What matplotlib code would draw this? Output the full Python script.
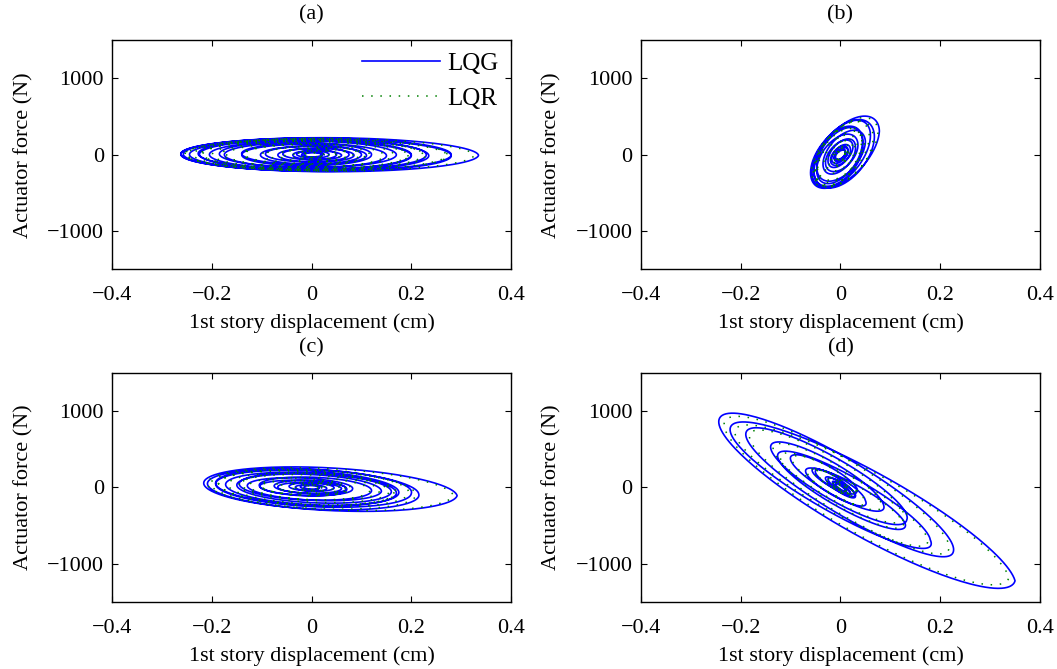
import numpy as np
import matplotlib
matplotlib.use("Agg")
import matplotlib.pyplot as plt

plt.rcParams['font.family'] = ['Liberation Serif', 'DejaVu Serif']
plt.rcParams['font.size'] = 16

# loop parameters, one row per cycle:
# x centre (cm), y centre (N), x amplitude (cm), y amplitude (N), phase lag (deg)
loops_a_xc = [0.01, 0.005, 0.0, -0.005, -0.01, -0.02, -0.01, -0.01, 0.0, 0.01, 0.035, 0.01, -0.01, 0.0, -0.01, 0.0, 0.005, 0.01, 0.0]
loops_a_yc = [0, 0, 0, 0, 0, 0, 0, 0, 0, 0, 0, 0, 0, 0, 0, 0, 0, 0, 0]
loops_a_ax = [0.015, 0.03, 0.05, 0.08, 0.11, 0.14, 0.18, 0.21, 0.23, 0.27, 0.30, 0.27, 0.245, 0.2, 0.16, 0.11, 0.08, 0.05, 0.02]
loops_a_ay = [25, 45, 70, 100, 130, 150, 175, 195, 205, 215, 225, 215, 210, 190, 160, 120, 90, 60, 30]
loops_a_ph = [92, 92, 92, 92, 92, 92, 92, 92, 92, 92, 92, 92, 92, 92, 92, 92, 92, 92, 92]

loops_b_xc = [0.0, 0.0, 0.0, 0.0, -0.008, 0.0, 0.012, 0.008, -0.005, 0.005, 0.0, 0.0, 0.0, 0.0]
loops_b_yc = [0, 0, 10, 0, -40, 0, 40, 20, -20, 10, 0, 0, 0, 0]
loops_b_ax = [0.01, 0.015, 0.025, 0.035, 0.052, 0.06, 0.066, 0.06, 0.05, 0.045, 0.03, 0.02, 0.015, 0.01]
loops_b_ay = [70, 100, 170, 250, 400, 440, 470, 460, 380, 330, 220, 140, 100, 60]
loops_b_ph = [60, 60, 60, 62, 60, 58, 55, 60, 62, 60, 60, 60, 60, 60]

loops_c_xc = [0.0, 0.0, -0.01, -0.018, 0.0, 0.0, -0.005, 0.0, 0.037, 0.0, 0.0, 0.0, -0.01, 0.0, 0.0, 0.0]
loops_c_yc = [0, 0, 0, 0, -10, -10, -10, -15, -25, -15, -10, 0, 0, 0, 0, 0]
loops_c_ax = [0.02, 0.045, 0.08, 0.1, 0.14, 0.16, 0.18, 0.2, 0.255, 0.215, 0.17, 0.12, 0.08, 0.06, 0.03, 0.015]
loops_c_ay = [30, 55, 90, 110, 180, 200, 230, 250, 300, 270, 220, 150, 100, 70, 40, 25]
loops_c_ph = [100, 100, 102, 102, 104, 104, 105, 105, 106, 105, 104, 102, 100, 100, 100, 100]

loops_d_xc = [0.0, 0.0, -0.005, -0.02, -0.02, -0.01, 0.0, 0.044, 0.0, 0.03, -0.01, 0.0, 0.0, 0.0]
loops_d_yc = [0, 10, 20, 130, 110, 80, 5, -170, -50, -150, 40, 20, 0, 0]
loops_d_ax = [0.012, 0.02, 0.035, 0.053, 0.107, 0.143, 0.226, 0.306, 0.18, 0.1, 0.06, 0.03, 0.02, 0.01]
loops_d_ay = [60, 100, 160, 210, 440, 580, 940, 1180, 700, 380, 250, 130, 90, 50]
loops_d_ph = [150, 150, 150, 148, 150, 150, 155, 153, 155, 150, 148, 150, 150, 150]

# LQR response is slightly smaller than LQG in each case
lqr_scale = [0.97, 0.96, 0.97, 0.96]

panels = [
    ("(a)", loops_a_xc, loops_a_yc, loops_a_ax, loops_a_ay, loops_a_ph),
    ("(b)", loops_b_xc, loops_b_yc, loops_b_ax, loops_b_ay, loops_b_ph),
    ("(c)", loops_c_xc, loops_c_yc, loops_c_ax, loops_c_ay, loops_c_ph),
    ("(d)", loops_d_xc, loops_d_yc, loops_d_ax, loops_d_ay, loops_d_ph),
]


def trace(xc, yc, ax_, ay_, ph, scale=1.0, n=240):
    """ join the cycles into one continuous trajectory """
    xs, ys = [], []
    k = len(ax_)
    for i in range(k):
        j = min(i + 1, k - 1)
        t = np.linspace(0, 2 * np.pi, n, endpoint=False)
        s = t / (2 * np.pi)
        cx = xc[i] + (xc[j] - xc[i]) * s
        cy = yc[i] + (yc[j] - yc[i]) * s
        a = (ax_[i] + (ax_[j] - ax_[i]) * s) * scale
        b = (ay_[i] + (ay_[j] - ay_[i]) * s) * scale
        p = np.radians(ph[i] + (ph[j] - ph[i]) * s)
        xs.append(cx + a * np.cos(t))
        ys.append(cy + b * np.cos(t - p))
    return np.concatenate(xs), np.concatenate(ys)


fig = plt.figure(figsize=(10.57, 6.69), dpi=100)
boxes = [
    [0.1062, 0.5975, 0.3772, 0.3425],
    [0.6064, 0.5975, 0.3775, 0.3425],
    [0.1062, 0.1001, 0.3772, 0.3425],
    [0.6064, 0.1001, 0.3775, 0.3425],
]

for idx, (name, xc, yc, ax_, ay_, ph) in enumerate(panels):
    ax = fig.add_axes(boxes[idx])
    x1, y1 = trace(xc, yc, ax_, ay_, ph)
    x2, y2 = trace(xc, yc, ax_, ay_, ph, scale=lqr_scale[idx])
    ax.plot(x1, y1, color='#0000ff', lw=1.2, label='LQG')
    ax.plot(x2, y2, color='#008000', lw=1.1, dashes=(1, 5), label='LQR')
    ax.set_xlim(-0.4, 0.4)
    ax.set_ylim(-1500, 1500)
    ax.set_xticks([-0.4, -0.2, 0, 0.2, 0.4])
    ax.set_xticklabels(['\u22120.4', '\u22120.2', '0', '0.2', '0.4'])
    ax.set_yticks([-1000, 0, 1000])
    ax.set_yticklabels(['\u22121000', '0', '1000'])
    ax.tick_params(axis='x', pad=12)
    ax.tick_params(axis='y', pad=6)
    ax.tick_params(direction='in', top=True, right=True, length=4, width=0.8)
    for sp in ax.spines.values():
        sp.set_linewidth(1.0)
    ax.set_xlabel('1st story displacement (cm)', labelpad=6)
    ax.set_ylabel('Actuator force (N)', labelpad=10)
    ax.set_title(name, fontsize=16, pad=15)
    if idx == 0:
        ax.legend(loc='upper right', frameon=False, fontsize=18, handlelength=3.1,
                  borderaxespad=0.2, labelspacing=0.5, handletextpad=0.3,
                  borderpad=0.3)

fig.savefig('out.png', dpi=100)
